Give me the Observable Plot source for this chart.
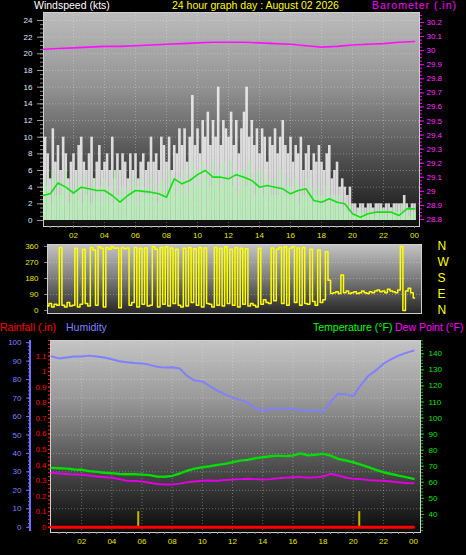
<!DOCTYPE html>
<html><head><meta charset="utf-8">
<script src="https://cdn.jsdelivr.net/npm/d3@7"></script>
<script src="https://cdn.jsdelivr.net/npm/@observablehq/plot@0.6"></script>
<style>
html,body{margin:0;padding:0;background:#000;width:466px;height:555px;overflow:hidden;font-family:"Liberation Sans",Arial,sans-serif;}
.t{position:absolute;font-size:10.5px;line-height:10.5px;white-space:nowrap;z-index:5;}
.p{position:absolute;left:0;}
</style></head><body>
<div id="top" class="p" style="top:0px"></div>
<div id="dir" class="p" style="top:230px"></div>
<div id="bot" class="p" style="top:330px"></div>
<div style="position:absolute;left:29px;top:340px;width:2px;height:191px;background:#7070ff"></div>
<div class="t" style="left:34px;top:0px;color:#ffffff">Windspeed (kts)</div>
<div class="t" style="left:172px;top:0px;color:#ffff00">24 hour graph day : August 02 2026</div>
<div class="t" style="left:372px;top:0px;color:#ff00ff;letter-spacing:1px">Barometer (.in)</div>
<div class="t" style="left:0px;top:322px;color:#ff0000">Rainfall (.in)</div>
<div class="t" style="left:66px;top:322px;color:#8080ff">Humidity</div>
<div class="t" style="left:313px;top:322px;color:#00ff00">Temperature (°F)</div>
<div class="t" style="left:395px;top:322px;color:#ff00ff">Dew Point (°F)</div>
<script>
// ---------- data (10-minute samples for wind, 30-minute for others) ----------
const gust = [
 6,10,8,5,11,7, 9,6,10,8,5,7, 8,6,9,10,7,6, 8,10,5,7,9,6,
 7,8,6,10,5,8, 6,8,7,5,8,6, 8,5,7,8,6,7, 10,7,8,6,10,9,
 7,10,6,9,8,11, 9,11,7,10,15,9, 11,8,12,10,13,9, 12,10,16,9,12,11,
 10,13,9,12,8,11, 13,16,10,12,9,11, 8,11,10,7,10,9, 11,8,10,12,9,8,
 10,7,9,8,10,6, 8,9,6,8,7,9, 7,6,8,9,5,6, 7,4,5,4,3,4,
 2,2,1.5,2,2,1.5, 2,2,1.5,2,2,2, 1.5,2,2,1.5,2,2, 2,2,3,2,1.5,2, 2];
const speed = [
 3,5,4,2,6,3, 5,3,4,6,2,4, 3,5,4,2,5,3, 4,2,5,3,4,2,
 5,3,4,2,6,3, 3,4,2,4,3,5, 4,2,5,3,4,3, 5,3,4,2,5,4,
 3,6,4,5,3,5, 4,6,3,5,7,4, 6,4,7,5,6,4, 7,5,6,4,7,5,
 5,7,4,6,3,6, 6,4,7,5,3,6, 4,6,3,5,4,3, 5,3,6,4,3,5,
 4,3,5,2,4,3, 3,5,2,4,3,4, 3,2,4,3,2,3, 2,3,1.5,2,1,2,
 1,0.5,1,1.5,1,0.5, 1,1.5,1,0.5,1,1.5, 1,0.5,1,1.5,1,1, 1.5,1,2,1,0.5,1, 1];
const avgWind = [3,3.2,4.5,4,3.3,4,3.8,3.6,3.6,3, 2.2,3,3.6,3.5,3.4,3.2,2.8,5,4.4,4.8,
 5.5,6,5.2,5.2,5,5.5,5.2,4.8,4,4.2, 4,3.8,3.2,3.6,3.8,2.4,2.2,2.6,2.2,2, 0.8,0.4,0.8,1,1,1,0.6,1.4,1.4];
const baro = [30.01,30.015,30.02,30.025,30.03,30.03,30.035,30.04,30.045,30.05,30.055,30.06,30.06,
 30.06,30.055,30.05,30.045,30.035,30.025,30.03,30.04,30.045,30.05,30.06,30.065];
const windDir = [
 85,30,25,40,20,35, 30,355,30,20,45,25, 30,350,20,35,345,40, 25,355,340,30,358,350,
 20,355,345,358,350,352, 15,355,348,352,30,45, 355,20,350,35,352,25, 30,358,345,20,355,35,
 358,25,352,40,345,30, 20,350,25,355,45,348, 30,355,20,352,40,35, 20,355,30,350,25,358,
 40,345,30,355,20,350, 35,348,25,40,30,20, 350,35,60,45,40,352, 55,345,355,40,358,30,
 350,358,45,352,30,355, 40,35,345,50,30,340, 45,60,330,170,95,100, 105,95,200,100,110,95,
 100,105,95,100,110,100, 95,105,100,110,115,105, 110,100,120,110,105,100, 115,360,0,110,125,100, 70];
const humidity = [92.6,91.5,92,92.5,92.5,93,92.5,92,91,90, 89.4,89,88.8,88,87,86.5,86.7,86,82,79.5,
 79,76.5,74,72,70.4,69,67.5,64.5,63,64.5, 64,64.5,64,63.5,63,63.5,62.3,68,72.4,72,
 71,77,82,85,88.6,91,93,94.5,95.7];
const temperature = [69,68.8,68.5,68,67.8,67,66.5,66,65.7,65.2, 65,65,64.8,64.5,63.6,63.5,64,65.5,67.3,68.5,
 69.4,70,70.9,71.5,72.5,73.5,74,75,75.6,76.2, 76.6,76.3,76.6,78,76.8,77.2,77.7,76.6,74.6,73.6,
 72.5,71,69.4,67.8,66.3,65.2,64.2,63.2,62.2];
const dewPoint = [65.9,65.5,65.2,64.8,64.7,64.2,63.6,63.2,62.8,62, 61,60.8,60.5,59.8,59,58.6,58.6,59.2,60,60.5,
 61,61.2,61,61.4,61.7,62,62.2,62,61.7,62, 62.6,62.8,63.2,63.4,62.8,63.2,63.6,65.3,64.2,63,
 62.2,62,61.5,61.2,61,60.5,60,59.6,59.4];
const rainMarkHours = [5.75, 20.4];
const rainMarks = [0.1, 0.1];
const rainTotalHours = [0, 24];
const rainTotal = [0, 0];
const hourTicks = [2,4,6,8,10,12,14,16,18,20,22,24];
const windTicks = [0,2,4,6,8,10,12,14,16,18,20,22,24];
const baroTicks = [28.8,28.9,29,29.1,29.2,29.3,29.4,29.5,29.6,29.7,29.8,29.9,30,30.1,30.2];
const dirTicks = [0,90,180,270,360];
const dirNames = ["N","E","S","W","N"];
const humTicks = [0,10,20,30,40,50,60,70,80,90,100];
const rainTicks = [0,0.1,0.2,0.3,0.4,0.5,0.6,0.7,0.8,0.9,1,1.1];
const tempTicks = [40,50,60,70,80,90,100,110,120,130,140];

// ---------- helpers ----------
const F = '"Liberation Sans", Arial, sans-serif';
const pad = h => String(h % 24).padStart(2, "0");
const num = v => String(+v.toFixed(2));
const baroToV = d3.scaleLinear([28.8, 30.2], [0.12, 23.76]);
const rainToV = d3.scaleLinear([0, 1.1], [0, 92.73]);
const tempToV = d3.scaleLinear([40, 140], [6.89, 94.03]);
const ns = "http://www.w3.org/2000/svg";
function addGrad(svg, id, stops) {
  const defs = document.createElementNS(ns, "defs");
  const g = document.createElementNS(ns, "linearGradient");
  g.setAttribute("id", id); g.setAttribute("x1", "0"); g.setAttribute("y1", "0");
  g.setAttribute("x2", "0"); g.setAttribute("y2", "1");
  for (const [o, c] of stops) {
    const s = document.createElementNS(ns, "stop");
    s.setAttribute("offset", o); s.setAttribute("stop-color", c); g.appendChild(s);
  }
  defs.appendChild(g); svg.insertBefore(defs, svg.firstChild);
}
const style = {background: "transparent", fontFamily: F, fontSize: "8px", color: "#ccc"};
const grid = {stroke: "#e8e8e8", strokeOpacity: 0.35, strokeDasharray: "1,2"};
const blank = () => "";
const ax = (o) => ({label: null, ...o});

// ---------- top: wind + barometer ----------
const windData = gust.map((g, i) => ({h: i / 6, gust: g, speed: speed[i]}));
const avgData = avgWind.map((v, i) => ({h: i / 2, v}));
const baroData = baro.map((b, i) => ({h: i, v: baroToV(b)}));
const topSvg = Plot.plot({
  width: 466, height: 245, marginTop: 12, marginBottom: 19, marginLeft: 43, marginRight: 47,
  style,
  x: {domain: [0.065, 24.32], axis: null, label: null},
  y: {domain: [-0.72, 24.96], axis: null, label: null},
  marks: [
    Plot.frame({fill: "url(#gTop)", stroke: "#cfcfcf"}),
    Plot.gridY(windTicks.slice(1), grid),
    Plot.gridX(hourTicks.slice(0, -1), grid),
    Plot.ruleX(windData, {x: "h", y1: 0, y2: "gust", stroke: "#f4f4f4", strokeWidth: 2.6, strokeOpacity: 0.85, clip: true}),
    Plot.ruleX(windData, {x: "h", y1: 0, y2: "speed", stroke: "#b8ecb8", strokeWidth: 2.2, clip: true}),
    Plot.line(avgData, {x: "h", y: "v", stroke: "#14e014", strokeWidth: 1.6, clip: true}),
    Plot.line(baroData, {x: "h", y: "v", stroke: "#ff10ff", strokeWidth: 1.6, clip: true}),
    Plot.axisY(d3.range(0, 24.01, 0.5), ax({anchor: "left", tickSize: 3, stroke: "#8a8a8a", tickFormat: blank})),
    Plot.axisY(windTicks, ax({anchor: "left", tickSize: 6, tickPadding: 5, stroke: "#9a9a9a", fill: "#dfe8ff"})),
    Plot.axisY(d3.range(28.8, 30.26, 0.025).map(baroToV), ax({anchor: "right", tickSize: 2, stroke: "#ff00ff", tickFormat: blank})),
    Plot.axisY(baroTicks.map(baroToV), ax({anchor: "right", tickSize: 4, tickPadding: 3, stroke: "#ff00ff", fill: "#ff30ff", tickFormat: v => num(baroToV.invert(v))})),
    Plot.axisX(d3.range(0.5, 24.1, 0.5), ax({anchor: "bottom", tickSize: 2, stroke: "#8a8a8a", tickFormat: blank})),
    Plot.axisX(hourTicks, ax({anchor: "bottom", tickSize: 0, tickPadding: 6, fill: "#e8e800", tickFormat: pad}))
  ]
});
addGrad(topSvg, "gTop", [[0, "#bcbcbc"], [0.35, "#929292"], [0.65, "#565656"], [0.88, "#2a2a2a"], [1, "#0e0e0e"]]);
document.getElementById("top").appendChild(topSvg);

// ---------- middle: wind direction ----------
const dirData = windDir.map((d, i) => ({h: i / 6, d}));
const dirSvg = Plot.plot({
  width: 466, height: 90, marginTop: 14, marginBottom: 7, marginLeft: 47, marginRight: 45,
  style,
  x: {domain: [0.32, 24.45], axis: null, label: null},
  y: {domain: [-16.9, 371.25], axis: null, label: null},
  marks: [
    Plot.frame({fill: "url(#gDir)", stroke: "#cfcfcf"}),
    Plot.gridY(dirTicks.slice(1, -1), grid),
    Plot.line(dirData, {x: "h", y: "d", stroke: "#ffff00", strokeWidth: 1.5, curve: "step", clip: true}),
    Plot.axisY(dirTicks, ax({anchor: "left", tickSize: 3, tickPadding: 6, stroke: "#8a8a8a", fill: "#e6e600"})),
    Plot.axisY(dirTicks, ax({anchor: "right", tickSize: 0, tickPadding: 16, fill: "#ffff00", fontSize: 12, tickFormat: d => dirNames[dirTicks.indexOf(d)]}))
  ]
});
addGrad(dirSvg, "gDir", [[0, "#c4c4c4"], [0.5, "#7a7a7a"], [1, "#262626"]]);
document.getElementById("dir").appendChild(dirSvg);

// ---------- bottom: rain, humidity, temperature, dew point ----------
const hData = humidity.map((v, i) => ({h: i / 2, v}));
const tData = temperature.map((t, i) => ({h: i / 2, v: tempToV(t)}));
const dData = dewPoint.map((t, i) => ({h: i / 2, v: tempToV(t)}));
const rmData = rainMarkHours.map((h, i) => ({h, v: rainToV(rainMarks[i])}));
const rtData = rainTotalHours.map((h, i) => ({h, v: rainToV(rainTotal[i])}));
const botSvg = Plot.plot({
  width: 466, height: 225, marginTop: 10, marginBottom: 23, marginLeft: 50, marginRight: 46,
  style,
  x: {domain: [-0.066, 24.46], axis: null, label: null},
  y: {domain: [-2.87, 101.2], axis: null, label: null},
  marks: [
    Plot.frame({fill: "url(#gBot)", stroke: "#cfcfcf"}),
    Plot.gridY(humTicks.slice(1, -1), grid),
    Plot.gridX(hourTicks.slice(0, -1), grid),
    Plot.ruleX(rmData, {x: "h", y1: 0, y2: "v", stroke: "#c8b400", strokeWidth: 2, clip: true}),
    Plot.line(hData, {x: "h", y: "v", stroke: "#8080ff", strokeWidth: 2, clip: true}),
    Plot.line(dData, {x: "h", y: "v", stroke: "#e000e0", strokeWidth: 2, clip: true}),
    Plot.line(tData, {x: "h", y: "v", stroke: "#00dd00", strokeWidth: 2.4, clip: true}),
    Plot.line(rtData, {x: "h", y: "v", stroke: "#ff0000", strokeWidth: 3, clip: true}),
    Plot.axisY(d3.range(0, 101, 2), ax({anchor: "left", tickSize: 2, dx: -20, stroke: "#7070ff", tickFormat: blank})),
    Plot.axisY(humTicks, ax({anchor: "left", tickSize: 4, tickPadding: 5, dx: -20, stroke: "#7070ff", fill: "#8080ff"})),
    Plot.axisY(d3.range(0, 1.21, 0.025).map(rainToV), ax({anchor: "left", tickSize: 2, stroke: "#ff2020", tickFormat: blank})),
    Plot.axisY(rainTicks.map(rainToV), ax({anchor: "left", tickSize: 2, tickPadding: 2, stroke: "#ff2020", fill: "#ff0000", tickFormat: v => num(rainToV.invert(v))})),
    Plot.axisY(d3.range(30, 149, 2).map(tempToV), ax({anchor: "right", tickSize: 2, stroke: "#00c000", tickFormat: blank})),
    Plot.axisY(tempTicks.map(tempToV), ax({anchor: "right", tickSize: 3, tickPadding: 5, stroke: "#00d000", fill: "#10e010", tickFormat: v => String(Math.round(tempToV.invert(v)))})),
    Plot.axisX(d3.range(0.5, 24.1, 0.5), ax({anchor: "bottom", tickSize: 2, stroke: "#8a8a8a", tickFormat: blank})),
    Plot.axisX(hourTicks, ax({anchor: "bottom", tickSize: 0, tickPadding: 6, fill: "#e8e800", tickFormat: pad}))
  ]
});
addGrad(botSvg, "gBot", [[0, "#c4c4c4"], [0.3, "#9a9a9a"], [0.6, "#5a5a5a"], [0.82, "#2c2c2c"], [1, "#0a0a0a"]]);
document.getElementById("bot").appendChild(botSvg);
</script>
</body></html>
